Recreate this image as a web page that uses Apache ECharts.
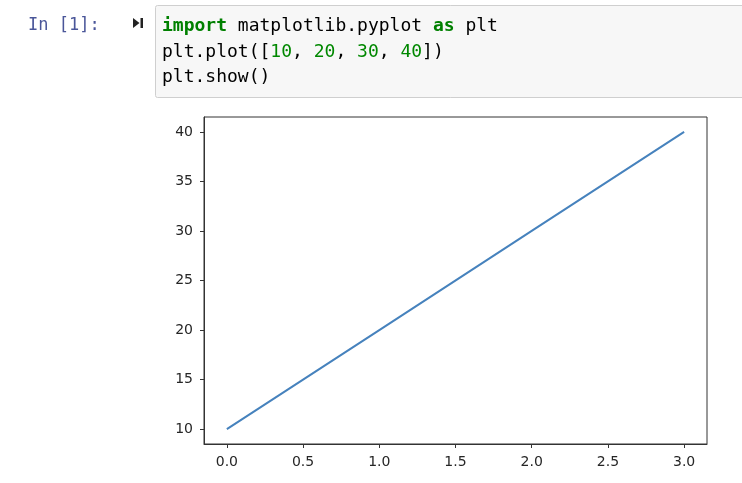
<!DOCTYPE html>
<html>
<head>
<meta charset="utf-8">
<script src="https://cdn.jsdelivr.net/npm/echarts@6/dist/echarts.min.js"></script>
<style>
html,body{margin:0;padding:0;background:#fff;}
#chart{width:742px;height:483px;}
</style>
</head>
<body>
<div id="chart"></div>
<script>
// Data
var xValues = [0, 1, 2, 3];
var yValues = [10, 20, 30, 40];
var xTicks = [0, 0.5, 1.0, 1.5, 2.0, 2.5, 3.0];
var yTicks = [10, 15, 20, 25, 30, 35, 40];
var promptText = 'In [1]:';
var codeLines = [
  '{kw|import} matplotlib.pyplot {kw|as} plt',
  'plt.plot([{num|10}, {num|20}, {num|30}, {num|40}])',
  'plt.show()'
];

var seriesData = xValues.map(function (x, i) { return [x, yValues[i]]; });

var chart = echarts.init(document.getElementById('chart'), null, {renderer: 'canvas'});
var mono = '"DejaVu Sans Mono", "Liberation Mono", monospace';
var tickFont = '"DejaVu Sans", sans-serif';

chart.setOption({
  animation: false,
  backgroundColor: '#ffffff',
  grid: {
    left: 204, top: 117, width: 503, height: 327,
    show: true, borderColor: '#333333', borderWidth: 1,
    backgroundColor: 'transparent',
    outerBoundsMode: 'none', containLabel: false
  },
  xAxis: {
    type: 'value', min: -0.15, max: 3.15,
    axisLine: {show: true, onZero: false, lineStyle: {color: '#333333', width: 1}},
    axisTick: {show: true, inside: false, length: 4, lineStyle: {color: '#333333'}, customValues: xTicks},
    axisLabel: {
      show: true, customValues: xTicks, margin: 11,
      color: '#262626', fontSize: 14, fontFamily: tickFont,
      formatter: function (v) { return Number(v).toFixed(1); }
    },
    splitLine: {show: false}
  },
  yAxis: {
    type: 'value', min: 8.5, max: 41.5,
    axisLine: {show: true, onZero: false, lineStyle: {color: '#333333', width: 1}},
    axisTick: {show: true, inside: false, length: 4, lineStyle: {color: '#333333'}, customValues: yTicks},
    axisLabel: {
      show: true, customValues: yTicks, margin: 11,
      color: '#262626', fontSize: 14, fontFamily: tickFont,
      formatter: function (v) { return String(v); }
    },
    splitLine: {show: false}
  },
  series: [{
    type: 'line',
    data: seriesData,
    showSymbol: false,
    symbol: 'none',
    lineStyle: {color: '#4682bd', width: 2},
    itemStyle: {color: '#4682bd'}
  }],
  graphic: [
    {
      type: 'rect',
      shape: {x: 155.5, y: 5.5, width: 600, height: 92, r: 2},
      style: {fill: '#f7f7f7', stroke: '#cfcfcf', lineWidth: 1},
      z: 0
    },
    {
      type: 'polygon',
      shape: {points: [[133, 18], [139.5, 23], [133, 28]]},
      style: {fill: '#222222'}
    },
    {
      type: 'rect',
      shape: {x: 140.5, y: 18, width: 2.5, height: 10},
      style: {fill: '#222222'}
    },
    {
      type: 'text',
      x: 28, y: 26,
      style: {
        text: promptText,
        fontFamily: mono,
        fontSize: 17,
        fill: '#4a5699',
        verticalAlign: 'middle',
        align: 'left'
      }
    },
    {
      type: 'text',
      x: 162, y: 14,
      style: {
        text: codeLines.join('\n'),
        fontFamily: mono,
        fontSize: 18,
        fill: '#000000',
        lineHeight: 25.5,
        verticalAlign: 'top',
        align: 'left',
        rich: {
          kw: {fill: '#008000', fontWeight: 'bold', fontFamily: mono, fontSize: 18, lineHeight: 25.5},
          num: {fill: '#008800', fontFamily: mono, fontSize: 18, lineHeight: 25.5}
        }
      }
    }
  ]
});
</script>
</body>
</html>
